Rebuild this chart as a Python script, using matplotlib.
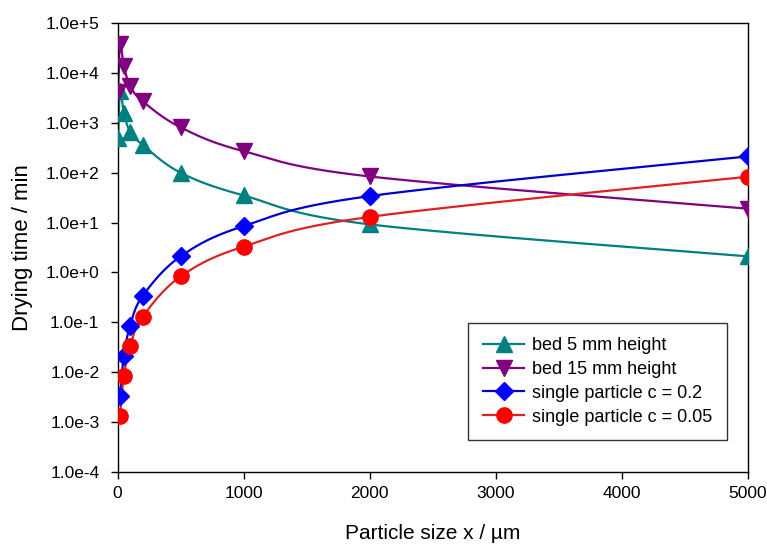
import numpy as np
import matplotlib
matplotlib.use("Agg")
import matplotlib.pyplot as plt
from matplotlib.ticker import FixedLocator, FixedFormatter

plt.rcParams['font.family'] = ['Liberation Sans', 'DejaVu Sans']

# data
x_bed = [5, 20, 50, 100, 200, 500, 1000, 2000, 5000]
bed_5mm = [500, 4400, 1600, 660, 360, 100, 35, 9.2, 2.1]
bed_15mm = [4200, 38000, 14000, 5500, 2700, 810, 270, 84, 19]

x_part = [20, 50, 100, 200, 500, 1000, 2000, 5000]
part_c02 = [0.0034, 0.021, 0.085, 0.34, 2.1, 8.5, 34, 212]
part_c005 = [0.0013, 0.0083, 0.033, 0.13, 0.83, 3.3, 13, 83]

y_ticks = [1e-4, 1e-3, 1e-2, 1e-1, 1e0, 1e1, 1e2, 1e3, 1e4, 1e5]
y_ticklabels = ['1.0e-4', '1.0e-3', '1.0e-2', '1.0e-1', '1.0e+0',
                '1.0e+1', '1.0e+2', '1.0e+3', '1.0e+4', '1.0e+5']
x_ticks = [0, 1000, 2000, 3000, 4000, 5000]


def smooth_curve(x, y, xspan=5000.0, yspan=9.0, ratio=631 / 450, n=30):
    # Excel-like smoothed line: Catmull-Rom in screen-ish space (linear x, log y)
    px = np.asarray(x, float) / xspan * ratio
    py = np.log10(np.asarray(y, float)) / yspan
    pts = np.column_stack([px, py])
    out = [pts[0]]
    for i in range(len(pts) - 1):
        p0 = pts[i - 1] if i > 0 else pts[i]
        p1, p2 = pts[i], pts[i + 1]
        p3 = pts[i + 2] if i + 2 < len(pts) else pts[i + 1]
        c1 = p1 + (p2 - p0) / 6.0
        c2 = p2 - (p3 - p1) / 6.0
        t = np.linspace(0, 1, n)[1:, None]
        seg = ((1 - t) ** 3 * p1 + 3 * (1 - t) ** 2 * t * c1
               + 3 * (1 - t) * t ** 2 * c2 + t ** 3 * p2)
        out.extend(seg)
    out = np.array(out)
    return out[:, 0] / ratio * xspan, 10 ** (out[:, 1] * yspan)


fig = plt.figure(figsize=(7.67, 5.49), dpi=100)
ax = fig.add_axes([0.1532, 0.1403, 0.8220, 0.8177])

series = [
    (x_bed, bed_5mm, '#008080', '#008080', '^', 12, 'bed 5 mm height'),
    (x_bed, bed_15mm, '#800080', '#800080', 'v', 12, 'bed 15 mm height'),
    (x_part, part_c02, '#0000cc', '#0000ff', 'D', 9.5, 'single particle c = 0.2'),
    (x_part, part_c005, '#dd2222', '#ff0000', 'o', 11, 'single particle c = 0.05'),
]

handles = []
for xs, ys, lc, mc, mk, ms, lab in series:
    sx, sy = smooth_curve(xs, ys)
    ax.plot(sx, sy, color=lc, lw=1.6, zorder=2)
    ax.plot(xs, ys, ls='none', marker=mk, ms=ms, color=mc, mec=mc, zorder=3)
    h, = ax.plot([], [], color=lc, lw=1.6, marker=mk, ms=ms, mfc=mc, mec=mc, label=lab)
    handles.append(h)

ax.set_yscale('log')
ax.set_xlim(0, 5000)
ax.set_ylim(1e-4, 1e5)
ax.yaxis.set_major_locator(FixedLocator(y_ticks))
ax.yaxis.set_major_formatter(FixedFormatter(y_ticklabels))
ax.yaxis.set_minor_locator(FixedLocator([]))
ax.set_xticks(x_ticks)
ax.tick_params(axis='both', direction='out', length=5, width=1, labelsize=12.5,
               colors='black')
ax.tick_params(axis='y', pad=8)
ax.tick_params(axis='x', pad=5)
for sp in ax.spines.values():
    sp.set_linewidth(1.0)
    sp.set_color('black')

ax.set_xlabel('Particle size x / µm', fontsize=15, labelpad=17)
ax.set_ylabel('Drying time / min', fontsize=16, labelpad=9)

leg = ax.legend(handles=handles, loc='lower right', bbox_to_anchor=(0.967, 0.071),
                fontsize=13, frameon=True, fancybox=False, handlelength=2.3,
                handletextpad=0.45, labelspacing=0.38, borderpad=0.8,
                borderaxespad=0)
leg.get_frame().set_edgecolor('black')
leg.get_frame().set_linewidth(1.0)

fig.savefig('out.png', dpi=100)
